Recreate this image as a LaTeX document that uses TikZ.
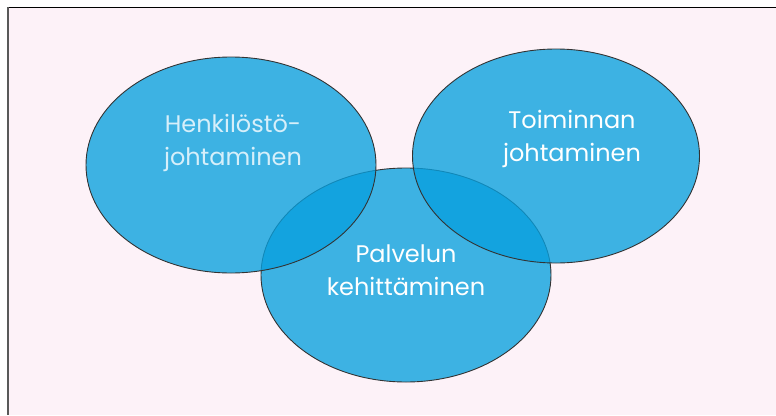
\documentclass[tikz,border=0pt]{standalone}
\usepackage{fontspec}
\usetikzlibrary{shapes.geometric}
\setmainfont{Poppins}
\begin{document}
\begin{tikzpicture}[x=1pt,y=-1pt,
  blob/.style={draw=black!80,line width=0.9pt,fill=blobblue,fill opacity=0.78},
  lbl/.style={align=center,font=\fontsize{24}{33}\selectfont,text=white,inner sep=0pt}]
\definecolor{blobblue}{RGB}{8,160,222}
\definecolor{pinkbg}{RGB}{253,242,248}
\useasboundingbox (0,0) rectangle (776,415);
\fill[white] (0,0) rectangle (776,415);
\fill[pinkbg] (7,7) rectangle (776,415);
\draw[black,line width=1.2pt] (7,7.5) -- (776,7.5);
\draw[black!65,line width=2pt] (8,7) -- (8,415);
\node[blob,ellipse,minimum width=290pt,minimum height=214pt,inner sep=0pt] (bottom) at (406,275) {};
\node[blob,ellipse,minimum width=290pt,minimum height=216pt,inner sep=0pt] (left) at (231,165) {};
\node[blob,ellipse,minimum width=287pt,minimum height=214pt,inner sep=0pt] (right) at (556,156) {};
\node[lbl,text={rgb,255:red,214;green,239;blue,250}] (tl) at (233,143) {Henkilöstö-\\johtaminen};
\node[lbl] (tr) at (572,139) {Toiminnan\\johtaminen};
\node[lbl] (tb) at (406,270) {Palvelun\\kehittäminen};
\end{tikzpicture}
\end{document}
